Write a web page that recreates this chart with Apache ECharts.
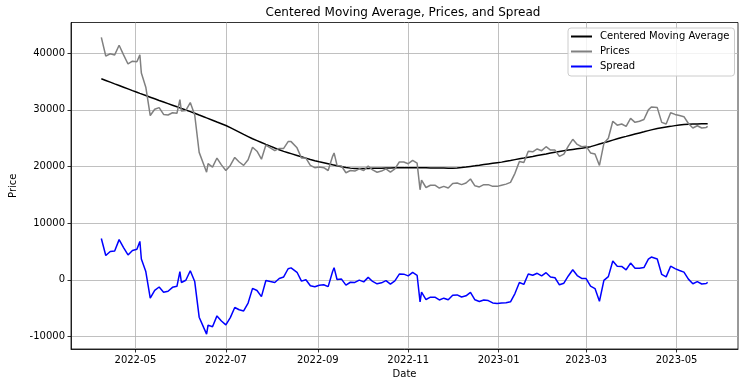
<!DOCTYPE html>
<html><head><meta charset="utf-8">
<script src="https://cdn.jsdelivr.net/npm/echarts@6/dist/echarts.min.js"></script>
<style>html,body{margin:0;padding:0;background:#fff}#c{width:745px;height:387px}</style>
</head><body><div id="c"></div>
<script>
const dates = ['2022-04-08','2022-04-11','2022-04-14','2022-04-17','2022-04-20','2022-04-23','2022-04-26','2022-04-29','2022-05-02','2022-05-04',
'2022-05-05','2022-05-08','2022-05-11','2022-05-14','2022-05-17','2022-05-20','2022-05-23','2022-05-26','2022-05-29','2022-05-31',
'2022-06-01','2022-06-04','2022-06-07','2022-06-10','2022-06-13','2022-06-16','2022-06-18','2022-06-19','2022-06-22','2022-06-25',
'2022-06-28','2022-07-01','2022-07-04','2022-07-07','2022-07-10','2022-07-13','2022-07-16','2022-07-19','2022-07-22','2022-07-25',
'2022-07-28','2022-07-31','2022-08-03','2022-08-06','2022-08-09','2022-08-12','2022-08-14','2022-08-15','2022-08-18','2022-08-21',
'2022-08-24','2022-08-27','2022-08-30','2022-09-02','2022-09-05','2022-09-08','2022-09-11','2022-09-12','2022-09-14','2022-09-17',
'2022-09-20','2022-09-23','2022-09-26','2022-09-29','2022-10-02','2022-10-05','2022-10-08','2022-10-11','2022-10-14','2022-10-17',
'2022-10-20','2022-10-23','2022-10-26','2022-10-29','2022-11-01','2022-11-04','2022-11-07','2022-11-09','2022-11-10','2022-11-13',
'2022-11-16','2022-11-19','2022-11-22','2022-11-25','2022-11-28','2022-12-01','2022-12-04','2022-12-07','2022-12-10','2022-12-13',
'2022-12-16','2022-12-19','2022-12-22','2022-12-25','2022-12-28','2022-12-31','2023-01-03','2023-01-06','2023-01-09','2023-01-12',
'2023-01-15','2023-01-18','2023-01-21','2023-01-24','2023-01-27','2023-01-30','2023-02-02','2023-02-05','2023-02-08','2023-02-11',
'2023-02-14','2023-02-17','2023-02-20','2023-02-23','2023-02-26','2023-03-01','2023-03-04','2023-03-07','2023-03-10','2023-03-13',
'2023-03-16','2023-03-19','2023-03-22','2023-03-25','2023-03-28','2023-03-31','2023-04-03','2023-04-06','2023-04-09','2023-04-12',
'2023-04-14','2023-04-15','2023-04-18','2023-04-21','2023-04-24','2023-04-27','2023-04-30','2023-05-03','2023-05-06','2023-05-09',
'2023-05-12','2023-05-15','2023-05-18','2023-05-21','2023-05-22'];

const prices = [42800,39500,39900,39700,41400,39700,38100,38600,38500,39700,
36500,34000,29000,30100,30400,29200,29100,29500,29400,31800,
29800,29900,31300,29100,22500,20400,19000,20500,19900,21500,
20300,19300,20200,21600,20800,20200,21200,23400,22700,21300,
23800,23300,22800,23200,23200,24400,24400,24100,23300,21500,
21500,20200,19800,19900,19800,19300,21800,22400,20200,20100,
18900,19300,19200,19600,19300,20100,19400,19000,19200,19600,
19000,19600,20800,20800,20500,21100,20600,15900,17600,16300,
16700,16700,16200,16500,16200,17000,17100,16800,17100,17800,
16600,16400,16800,16800,16500,16500,16700,16900,17200,18800,
20900,20700,22700,22600,23100,22800,23500,22900,22900,21800,
22200,23600,24800,23900,23500,23600,22400,22200,20200,24100,
25000,28000,27300,27500,27100,28500,27800,28000,28300,30000,
30500,30300,30400,27800,27500,29500,29200,29000,28800,27600,
26800,27200,26800,26900,27100];

const cma = [35490,35190,34890,34590,34300,34000,33700,33400,33110,32910,
32820,32530,32240,31950,31660,31380,31100,30820,30540,30350,
30260,29970,29690,29400,29090,28790,28580,28480,28170,27860,
27560,27250,26860,26470,26080,25680,25290,24900,24580,24250,
23920,23600,23270,22950,22680,22440,22280,22200,21960,21720,
21480,21240,21020,20840,20670,20490,20310,20250,20140,19960,
19830,19720,19650,19640,19650,19660,19680,19700,19720,19740,
19760,19770,19780,19790,19790,19790,19790,19780,19780,19770,
19760,19750,19740,19730,19720,19720,19750,19830,19920,20020,
20120,20230,20350,20460,20570,20680,20780,20930,21070,21220,
21360,21500,21650,21790,21940,22090,22230,22380,22530,22670,
22790,22910,23020,23130,23240,23360,23510,23740,23970,24200,
24430,24660,24890,25120,25320,25530,25730,25930,26130,26340,
26470,26540,26710,26840,26970,27090,27220,27350,27440,27470,
27490,27510,27530,27540,27550];

const spread = [7310,4310,5010,5110,7100,5700,4400,5200,5390,6790,
3680,1470,-3240,-1850,-1260,-2180,-2000,-1320,-1140,1450,
-460,-70,1610,-300,-6590,-8390,-9580,-7980,-8270,-6360,
-7260,-7950,-6660,-4870,-5280,-5480,-4090,-1500,-1880,-2950,
-120,-300,-470,250,520,1960,2120,1900,1340,-220,
20,-1040,-1220,-940,-870,-1190,1490,2150,60,140,
-930,-420,-450,-40,-350,440,-280,-700,-520,-140,
-760,-170,1020,1010,710,1310,810,-3880,-2180,-3470,
-3060,-3050,-3540,-3230,-3520,-2720,-2650,-3030,-2820,-2220,
-3520,-3830,-3550,-3660,-4070,-4180,-4080,-4030,-3870,-2420,
-460,-800,1050,810,1160,710,1270,520,370,-870,
-590,690,1780,770,260,240,-1110,-1540,-3770,-100,
570,3340,2410,2380,1780,2970,2070,2070,2170,3660,
4030,3760,3690,960,530,2410,1980,1650,1360,130,
-690,-310,-730,-640,-450];

const xTickDates = ['2022-05-01','2022-07-01','2022-09-01','2022-11-01','2023-01-01','2023-03-01','2023-05-01'];
const yTicks = [-10000,0,10000,20000,30000,40000];

const ts = s => Date.parse(s + 'T00:00:00Z');
const xTicks = xTickDates.map(ts);
const pair = arr => dates.map((d, i) => [ts(d), arr[i]]);
const FONT = 'DejaVu Sans';
const fmtDate = v => { const d = new Date(v); return d.getUTCFullYear() + '-' + String(d.getUTCMonth() + 1).padStart(2, '0'); };

const chart = echarts.init(document.getElementById('c'), null, {renderer: 'canvas'});
chart.setOption({
  animation: false,
  backgroundColor: '#fff',
  textStyle: {fontFamily: FONT},
  graphic: [{
    type: 'text', x: 403, y: 13,
    style: {text: 'Centered Moving Average, Prices, and Spread', fontFamily: FONT, fontSize: 12, fill: '#000', textAlign: 'center', textVerticalAlign: 'middle'}
  }],
  grid: {left: 68, right: 7, top: 22.5, bottom: 38, show: true, borderColor: '#000', borderWidth: 0.8, backgroundColor: 'transparent'},
  legend: {
    orient: 'vertical', left: 568, top: 28,
    padding: [1, 5, 2, 3], itemGap: 0, itemWidth: 21, itemHeight: 2, icon: 'rect',
    backgroundColor: 'rgba(255,255,255,0.8)', borderColor: '#cccccc', borderWidth: 1, borderRadius: 3,
    textStyle: {fontFamily: FONT, fontSize: 10, color: '#000', lineHeight: 15, padding: [0, 0, 0, 3]},
    data: ['Centered Moving Average', 'Prices', 'Spread']
  },
  xAxis: {
    type: 'value',
    min: ts('2022-03-18') + 13 * 3600e3,
    max: ts('2023-06-11') + 11 * 3600e3,
    name: 'Date', nameLocation: 'middle', nameGap: 20,
    nameTextStyle: {fontFamily: FONT, fontSize: 10, color: '#000'},
    axisLine: {show: true, onZero: false, lineStyle: {color: '#000', width: 0.8}},
    axisTick: {show: true, length: 3.5, customValues: xTicks, lineStyle: {color: '#000', width: 0.8}},
    axisLabel: {customValues: xTicks, formatter: fmtDate, fontFamily: FONT, fontSize: 10, color: '#000', margin: 6, hideOverlap: false, showMinLabel: true, showMaxLabel: true},
    splitLine: {show: true, lineStyle: {color: '#b0b0b0', width: 0.8}}
  },
  yAxis: {
    type: 'value', min: -12200, max: 45420,
    name: 'Price', nameLocation: 'middle', nameGap: 53, nameRotate: 90,
    nameTextStyle: {fontFamily: FONT, fontSize: 10, color: '#000'},
    axisLine: {show: true, onZero: false, lineStyle: {color: '#000', width: 0.8}},
    axisTick: {show: true, length: 3.5, customValues: yTicks, lineStyle: {color: '#000', width: 0.8}},
    axisLabel: {customValues: yTicks, formatter: v => String(v), fontFamily: FONT, fontSize: 10, color: '#000', margin: 6, showMinLabel: true, showMaxLabel: true},
    splitLine: {show: true, lineStyle: {color: '#b0b0b0', width: 0.8}}
  },
  series: [
    {name: 'Centered Moving Average', type: 'line', data: pair(cma), showSymbol: false, symbol: 'none',
     lineStyle: {color: '#000000', width: 1.5}, itemStyle: {color: '#000000'}},
    {name: 'Prices', type: 'line', data: pair(prices), showSymbol: false, symbol: 'none',
     lineStyle: {color: '#808080', width: 1.5}, itemStyle: {color: '#808080'}},
    {name: 'Spread', type: 'line', data: pair(spread), showSymbol: false, symbol: 'none',
     lineStyle: {color: '#0000ff', width: 1.5}, itemStyle: {color: '#0000ff'}}
  ]
});
</script></body></html>
